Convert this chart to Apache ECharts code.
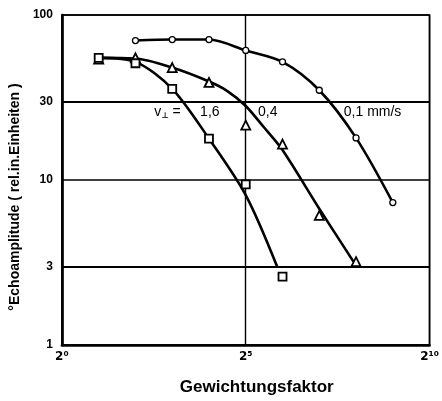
<!DOCTYPE html>
<html>
<head>
<meta charset="utf-8">
<script src="https://cdn.jsdelivr.net/npm/echarts@6/dist/echarts.min.js"></script>
<style>
html,body{margin:0;padding:0;background:#fff;}
#c{width:442px;height:401px;}
</style>
</head>
<body>
<div id="c"></div>
<script>
// x values are powers of two, given as exponents (Gewichtungsfaktor = 2^exp)
const xTickLabels = {0: '2\u2070', 5: '2\u2075', 10: '2\u00b9\u2070'};
const yExtraTicks = [3, 30];

// measured points
const pts01Exp = [2, 3, 4, 5, 6, 7, 8, 9];
const pts01Val = [70, 71, 71, 61, 52, 35, 18, 7.3];
const pts04Exp = [1, 2, 3, 4, 5, 6, 7, 8];
const pts04Val = [54, 55, 48, 39, 21.5, 16.5, 6.1, 3.2];
const pts16Exp = [1, 2, 3, 4, 5, 6];
const pts16Val = [55, 51, 35.7, 17.8, 9.4, 2.6];

// hand-drawn fit curves
const curve01Exp = [2, 3, 4, 5, 6, 7, 8, 9];
const curve01Val = [70, 71, 71, 61, 52, 35, 18, 7.3];
const curve04Exp = [1, 2, 3, 4, 4.5, 5, 5.5, 6, 7, 7.93];
const curve04Val = [55, 54.5, 48, 39.5, 34.6, 28.1, 20.8, 15.2, 6.7, 3.2];
const curve16Exp = [1, 2, 3, 4, 5, 5.85];
const curve16Val = [55, 52, 35.7, 17.8, 8.1, 3.0];

const labels = ['0,1 mm/s', '0,4', '1,6'];

const zip = (a, b) => a.map((v, i) => [v, b[i]]);
const FONT = 'Liberation Sans';

const chart = echarts.init(document.getElementById('c'), null, {renderer: 'canvas'});

function curve(ex, val) {
  return {
    type: 'line', data: zip(ex, val), smooth: 0.3, showSymbol: false,
    lineStyle: {color: '#000', width: 2.6}, silent: true, z: 3
  };
}
function pts(ex, val, symbol, size, bw) {
  return {
    type: 'scatter', data: zip(ex, val), symbol: symbol, symbolSize: size,
    itemStyle: {color: '#fff', borderColor: '#000', borderWidth: bw, opacity: 1}, z: 5
  };
}

const option = {
  animation: false,
  backgroundColor: '#fff',
  grid: {left: 56, right: 9, top: 15, bottom: 53, show: true, borderColor: '#000', borderWidth: 1.6, containLabel: false},
  xAxis: {
    type: 'value', min: 0, max: 10, interval: 5,
    name: 'Gewichtungsfaktor', nameLocation: 'middle', nameGap: 34,
    nameTextStyle: {fontFamily: FONT, fontWeight: 'bold', fontSize: 17, color: '#000', padding: [0, 0, 0, 22]},
    axisLine: {show: true, lineStyle: {color: '#000', width: 2.6}},
    axisTick: {show: false},
    axisLabel: {formatter: v => xTickLabels[v] || '', fontFamily: 'DejaVu Sans', fontWeight: 'bold', fontSize: 12, color: '#000', margin: 6},
    splitLine: {show: true, lineStyle: {color: '#000', width: 1.4}}
  },
  yAxis: {
    type: 'log', logBase: 10, min: 1, max: 100,
    name: '\u00b0Echoamplitude ( rel.in.Einheiten )', nameLocation: 'middle', nameGap: 32, nameRotate: 90,
    nameTextStyle: {fontFamily: FONT, fontWeight: 'bold', fontSize: 14, color: '#000', padding: [0, 34, 0, 0]},
    axisLine: {show: true, lineStyle: {color: '#000', width: 2.6}},
    axisTick: {show: false},
    axisLabel: {fontFamily: FONT, fontWeight: 'bold', fontSize: 12, color: '#000', margin: 9},
    splitLine: {show: true, lineStyle: {color: '#000', width: 1.6}},
    minorTick: {show: false}
  },
  series: [
    Object.assign(curve(curve01Exp, curve01Val), {
      markPoint: {
        symbol: 'circle', symbolSize: 0, silent: true,
        data: [{coord: [8.45, 25.7], value: labels[0]}],
        label: {show: true, formatter: labels[0], fontFamily: FONT, fontSize: 14, color: '#000', position: 'inside'}
      }
    }),
    Object.assign(curve(curve04Exp, curve04Val), {
      markPoint: {
        symbol: 'circle', symbolSize: 0, silent: true,
        data: [{coord: [5.6, 25.7], value: labels[1]}],
        label: {show: true, formatter: labels[1], fontFamily: FONT, fontSize: 14, color: '#000', position: 'inside'}
      },
      markLine: {
        silent: true, symbol: 'none', animation: false,
        lineStyle: {color: '#000', width: 2, type: 'solid'},
        label: {show: true, position: 'start', formatter: p => String(p.value), fontFamily: FONT, fontWeight: 'bold', fontSize: 12, color: '#000', distance: 9},
        data: yExtraTicks.map(v => ({yAxis: v}))
      }
    }),
    Object.assign(curve(curve16Exp, curve16Val), {
      markPoint: {
        symbol: 'circle', symbolSize: 0, silent: true,
        data: [{coord: [3.4, 25.7], value: labels[2]}],
        label: {
          show: true, position: 'inside',
          formatter: '{v|v}{s|\u22a5}{t| =     ' + labels[2] + '}',
          rich: {
            v: {fontFamily: FONT, fontSize: 14, color: '#000'},
            s: {fontFamily: 'DejaVu Sans', fontSize: 8, color: '#000', fontWeight: 'bold', padding: [8, 0, 0, 0]},
            t: {fontFamily: FONT, fontSize: 14, color: '#000'}
          }
        }
      }
    }),
    pts(pts01Exp, pts01Val, 'circle', 6, 1.3),
    pts(pts04Exp, pts04Val, 'triangle', 9, 1.8),
    pts(pts16Exp, pts16Val, 'rect', 8, 1.8)
  ]
};
chart.setOption(option);
</script>
</body>
</html>
